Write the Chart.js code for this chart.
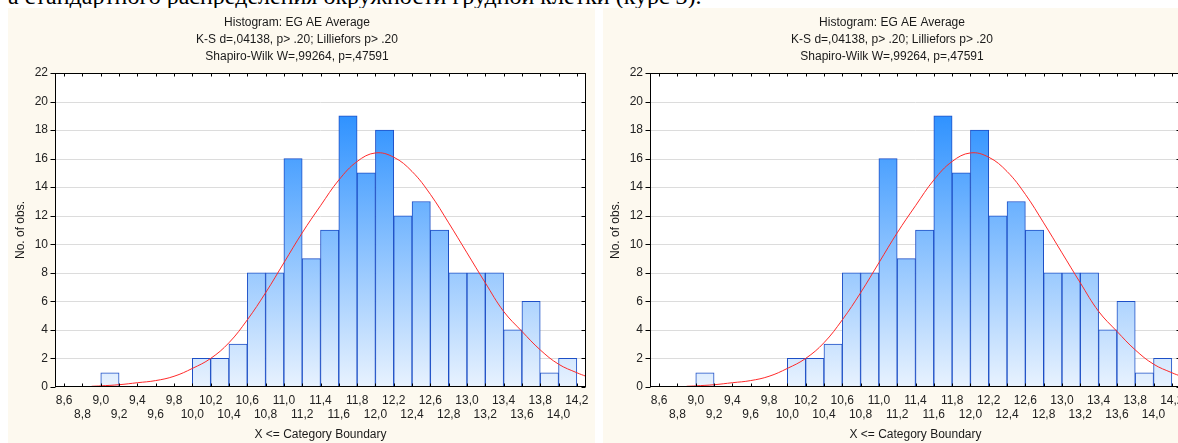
<!DOCTYPE html>
<html>
<head>
<meta charset="utf-8">
<script src="https://cdn.jsdelivr.net/npm/chart.js@4.4.1/dist/chart.umd.min.js"></script>
<style>
  html, body { margin: 0; padding: 0; background: #fff; }
  body { width: 1178px; height: 443px; overflow: hidden; position: relative; }
  .cut { position: absolute; left: 8px; top: -17px; font-family: "Liberation Serif", "Times New Roman", serif; font-size: 24px; line-height: 26px; color: #000; white-space: nowrap; }
  .panel { position: absolute; top: 8px; width: 587px; height: 435px; background: #fdf9ef; }
  canvas { display: block; }
</style>
</head>
<body>
<div class="cut">а стандартного распределения окружности грудной клетки (курс 3).</div>
<div class="panel" style="left:8px"><canvas id="c1" width="587" height="435"></canvas></div>
<div class="panel" style="left:603px"><canvas id="c2" width="587" height="435"></canvas></div>
<script>
// bins by upper boundary (X <= boundary), counts
var binUpper = [8.8, 9.0, 9.2, 9.4, 9.6, 9.8, 10.0, 10.2, 10.4, 10.6, 10.8, 11.0, 11.2, 11.4,
                11.6, 11.8, 12.0, 12.2, 12.4, 12.6, 12.8, 13.0, 13.2, 13.4, 13.6, 13.8, 14.0, 14.2];
var counts   = [0, 0, 1, 0, 0, 0, 0, 2, 2, 3, 8, 8, 16, 9,
                11, 19, 15, 18, 12, 13, 11, 8, 8, 8, 4, 6, 1, 2];

// fitted normal curve
var curveX = [8.9, 9.0, 9.2, 9.4, 9.6, 9.8, 10.0, 10.2, 10.4, 10.6, 10.8, 11.0, 11.2, 11.4, 11.6,
              11.8, 12.0, 12.2, 12.4, 12.6, 12.8, 13.0, 13.2, 13.4, 13.6, 13.8, 14.0, 14.2, 14.3];
var curveY = [0.05, 0.08, 0.16, 0.3, 0.45, 0.75, 1.3, 2.0, 3.1, 4.7, 6.6, 8.7, 10.8, 12.7, 14.5,
              15.8, 16.4, 16.1, 15.1, 13.5, 11.5, 9.4, 7.3, 5.3, 3.9, 2.6, 1.6, 1.0, 0.75];

var xTicks = [8.6, 8.8, 9.0, 9.2, 9.4, 9.6, 9.8, 10.0, 10.2, 10.4, 10.6, 10.8, 11.0, 11.2, 11.4,
              11.6, 11.8, 12.0, 12.2, 12.4, 12.6, 12.8, 13.0, 13.2, 13.4, 13.6, 13.8, 14.0, 14.2];
var yTicks = [0, 2, 4, 6, 8, 10, 12, 14, 16, 18, 20, 22];

var titleLines = ['Histogram: EG AE Average',
                  'K-S d=,04138, p> .20; Lilliefors p> .20',
                  'Shapiro-Wilk W=,99264, p=,47591'];

var FONT = 'Arial, "Liberation Sans", sans-serif';

function fmt(v) { return v.toFixed(1).replace('.', ','); }

var framePlugin = {
  id: 'frame',
  beforeDatasetsDraw: function(chart) {
    var a = chart.chartArea, c = chart.ctx;
    c.save();
    c.fillStyle = '#fff';
    c.fillRect(a.left, a.top, a.right - a.left, a.bottom - a.top);
    // horizontal grid
    c.strokeStyle = '#dcdcdc';
    c.lineWidth = 1;
    yTicks.forEach(function(v) {
      if (v === 0 || v === 22) return;
      var y = Math.round(chart.scales.y.getPixelForValue(v)) + 0.5;
      c.beginPath(); c.moveTo(a.left, y); c.lineTo(a.right, y); c.stroke();
    });
    c.restore();
  },
  afterDraw: function(chart) {
    var a = chart.chartArea, c = chart.ctx;
    var l = Math.round(a.left) + 0.5, r = Math.round(a.right) - 0.5;
    var t = Math.round(a.top) + 0.5, b = Math.round(a.bottom) - 0.5;
    c.save();
    c.strokeStyle = '#000';
    c.lineWidth = 1;
    c.strokeRect(l, t, r - l, b - t);
    c.beginPath();
    xTicks.forEach(function(v) {
      var x = Math.round(chart.scales.x.getPixelForValue(v)) + 0.5;
      c.moveTo(x, t); c.lineTo(x, t + 3);
      c.moveTo(x, b); c.lineTo(x, b - 3);
    });
    yTicks.forEach(function(v) {
      var y = Math.round(chart.scales.y.getPixelForValue(v)) + 0.5;
      c.moveTo(r, y); c.lineTo(r - 4, y);
      c.moveTo(l, y); c.lineTo(l - 5, y);
    });
    c.stroke();
    c.restore();
  }
};

function makeChart(id) {
  var barData = binUpper.map(function(u, i) {
    return { x: +(u - 0.1).toFixed(2), y: counts[i] || null };
  });
  var lineData = curveX.map(function(x, i) { return { x: x, y: curveY[i] }; });

  return new Chart(document.getElementById(id), {
    type: 'bar',
    data: {
      datasets: [{
        type: 'line',
        data: lineData,
        borderColor: '#ff2a2a',
        borderWidth: 1,
        pointRadius: 0,
        tension: 0.4,
        order: 0
      }, {
        type: 'bar',
        data: barData,
        backgroundColor: function(ctx) {
          var a = ctx.chart.chartArea;
          if (!a) return '#8ec4fa';
          var g = ctx.chart.ctx.createLinearGradient(0, a.bottom, 0, a.top);
          g.addColorStop(0, '#e8f2fe');
          g.addColorStop(1, '#1283ff');
          return g;
        },
        borderColor: '#1d4fc6',
        borderWidth: 1,
        borderSkipped: false,
        barPercentage: 1,
        categoryPercentage: 1,
        order: 1
      }]
    },
    options: {
      responsive: false,
      animation: false,
      devicePixelRatio: 1,
      layout: { padding: { left: 0, right: 9, top: 0, bottom: 0 } },
      plugins: {
        legend: { display: false },
        tooltip: { enabled: false },
        title: {
          display: true,
          text: titleLines,
          color: '#1a1a1a',
          font: { family: FONT, size: 12, weight: 'normal', lineHeight: 1.4167 },
          padding: { top: 6, bottom: 8 }
        }
      },
      scales: {
        x: {
          type: 'linear',
          min: 8.5,
          max: 14.3,
          offset: false,
          grid: { display: false, drawTicks: false, offset: false },
          border: { display: false },
          afterBuildTicks: function(scale) {
            scale.ticks = xTicks.map(function(v) { return { value: v }; });
          },
          afterFit: function(scale) {
            scale.height = 56;
            scale.paddingLeft = 0;
            scale.paddingRight = 0;
          },
          ticks: {
            autoSkip: false,
            maxRotation: 0,
            minRotation: 0,
            padding: 6,
            color: '#222',
            font: { family: FONT, size: 12, lineHeight: 1.2 },
            callback: function(v, i) { return i % 2 === 0 ? fmt(v) : ['', fmt(v)]; }
          },
          title: {
            display: true,
            text: 'X <= Category Boundary',
            color: '#1a1a1a',
            font: { family: FONT, size: 12, lineHeight: 1.2 },
            padding: { top: 0, bottom: 1 }
          }
        },
        y: {
          min: 0,
          max: 22,
          grid: { display: false, drawTicks: false },
          border: { display: false },
          afterBuildTicks: function(scale) {
            scale.ticks = yTicks.map(function(v) { return { value: v }; });
          },
          afterFit: function(scale) { scale.width = 47; },
          ticks: {
            padding: 7,
            color: '#222',
            font: { family: FONT, size: 12 }
          },
          title: {
            display: true,
            text: 'No. of obs.',
            color: '#1a1a1a',
            font: { family: FONT, size: 12, lineHeight: 1.2 },
            padding: { top: 5, bottom: 0 }
          }
        }
      }
    },
    plugins: [framePlugin]
  });
}

makeChart('c1');
makeChart('c2');
</script>
</body>
</html>
